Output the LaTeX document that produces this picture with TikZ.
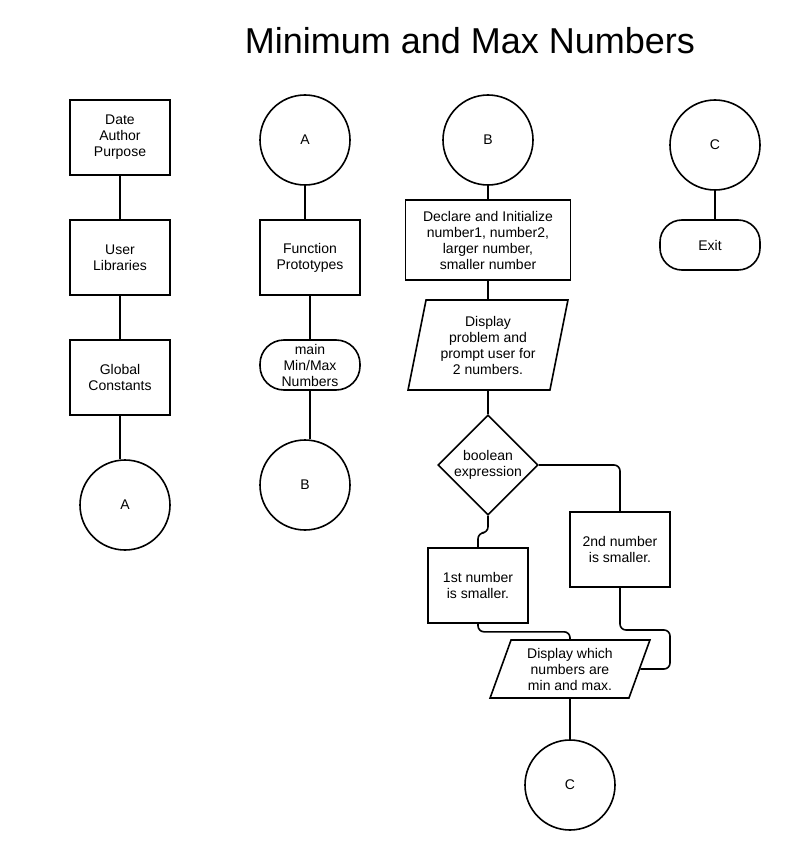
\documentclass[tikz,border=0pt]{standalone}
\usepackage{fontspec}
\setmainfont{Liberation Sans}
\usetikzlibrary{shapes.geometric}

\begin{document}
\begin{tikzpicture}[x=1pt,y=-1pt,line width=1.6pt]
	\tikzset{every node/.style={font=\fontsize{14}{16}\selectfont,align=center,inner sep=2pt}}
	\tikzset{procbox/.style={draw,rectangle,minimum width=100,minimum height=75}}
	\tikzset{connector/.style={draw,circle,minimum size=90}}
	\tikzset{terminal/.style={draw,rectangle,rounded corners=22,minimum width=100,minimum height=50}}
	\tikzset{iobox/.style={draw,trapezium,trapezium stretches=true,trapezium left angle=77,trapezium right angle=103,minimum width=160,minimum height=90}}
	\tikzset{decision/.style={draw,diamond,aspect=1,minimum size=100,inner sep=0pt}}
	\tikzset{flow/.style={draw,rounded corners=6}}
	\useasboundingbox (0,0) rectangle (786,850);
	\node (title) at (470,41) {\fontsize{36}{42}\selectfont Minimum and Max Numbers};
	% column 1
	\node[procbox] (head) at (120,137.5) {Date\\Author\\Purpose};
	\node[procbox] (libs) at (120,257.5) {User\\Libraries};
	\node[procbox] (consts) at (120,377.5) {Global\\Constants};
	\node[connector] (a1) at (125,505) {A};
	\draw (head.south) -- (libs.north);
	\draw (libs.south) -- (consts.north);
	\draw (consts.south) -- (consts.south |- a1.north);
	% column 2
	\node[connector] (a2) at (305,140) {A};
	\node[procbox] (proto) at (310,257.5) {Function\\Prototypes};
	\node[terminal,rounded corners=24] (main) at (310,365) {main\\Min/Max\\Numbers};
	\node[connector] (b2) at (305,485) {B};
	\draw (a2.south) -- (a2.south |- proto.north);
	\draw (proto.south) -- (main.north);
	\draw (main.south) -- (main.south |- b2.north);
	% column 3
	\node[connector] (b3) at (488,140) {B};
	\node[procbox,minimum width=165,minimum height=80] (decl) at (488,240) {Declare and Initialize\\number1, number2,\\larger number,\\smaller number};
	\node[iobox] (prompt) at (488,345) {Display\\problem and\\prompt user for\\2 numbers.};
	\node[decision] (cond) at (488,465) {boolean\\expression};
	\node[procbox] (small1) at (478,585.5) {1st number\\is smaller.};
	\node[procbox] (small2) at (620,549.5) {2nd number\\is smaller.};
	\node[iobox,minimum height=58,trapezium left angle=71,trapezium right angle=109] (show) at (570,669) {Display which\\numbers are\\min and max.};
	\node[connector] (c3) at (570,785) {C};
	\coordinate (loop) at (670,630);
	\draw (b3.south) -- (decl.north);
	\draw (decl.south) -- (prompt.north);
	\draw (prompt.south) -- (cond.north);
	\draw[flow] (cond.south) -- ++(0,17) -| (small1.north);
	\draw[flow] (cond.east) -| (small2.north);
	\draw[flow] (small1.south) -- ++(0,8) -| (show.north);
	\draw[flow] (small2.south) |- (loop) |- (show.east);
	\draw (show.south) -- (c3.north);
	% column 4
	\node[connector] (c4) at (715,145) {C};
	\node[terminal] (exit) at (710,245) {Exit};
	\draw (c4.south) -- (c4.south |- exit.north);
\end{tikzpicture}
\end{document}
